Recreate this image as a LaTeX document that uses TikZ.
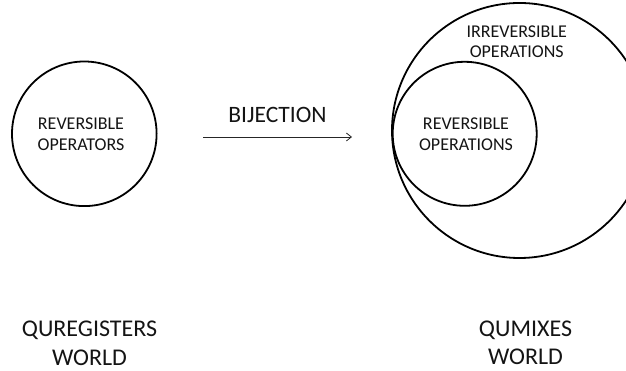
\documentclass[tikz,border=0pt]{standalone}
\usepackage{fontspec}
\setmainfont{Carlito}
\usetikzlibrary{arrows.meta}
\begin{document}
\begin{tikzpicture}[x=1pt,y=1pt,
  ring/.style={circle,draw=black,line width=1.8pt,inner sep=0pt},
  lbl/.style={align=center,inner sep=0pt,text=black!92},
  small/.style={lbl,font=\fontsize{18}{21}\selectfont},
  big/.style={lbl,font=\fontsize{24}{28.5}\selectfont},
  conn/.style={draw=black!85,line width=0.8pt,-{Straight Barb[length=5pt,width=8pt]}}]
\useasboundingbox (0,0) rectangle (626,371);
\clip (0,0) rectangle (626,371);
% left world
\node[ring,minimum size=144.6pt] (lc) at (84.3,237.2) {};
\node[small] (lt) at (81,236.5) {REVERSIBLE\\OPERATORS};
% right world
\node[ring,minimum size=255pt] (bc) at (519.5,240.5) {};
\node[ring,minimum size=144pt] (ic) at (464.7,237.2) {};
\node[small] (it) at (466,237) {REVERSIBLE\\OPERATIONS};
\node[small,font=\fontsize{18}{20}\selectfont] (bt) at (516.7,329.3) {IRREVERSIBLE\\OPERATIONS};
% arrow
\coordinate (a1) at (203,234);
\coordinate (a2) at (352,234);
\draw[conn] (a1) -- (a2);
\node[lbl,font=\fontsize{23.5}{27}\selectfont] (bij) at (277.5,256) {BIJECTION};
% world labels
\node[big] (qw) at (89.5,27.75) {QUREGISTERS\\WORLD};
\node[big,font=\fontsize{24}{28}\selectfont] (mw) at (525.5,28) {QUMIXES\\WORLD};
\end{tikzpicture}
\end{document}
